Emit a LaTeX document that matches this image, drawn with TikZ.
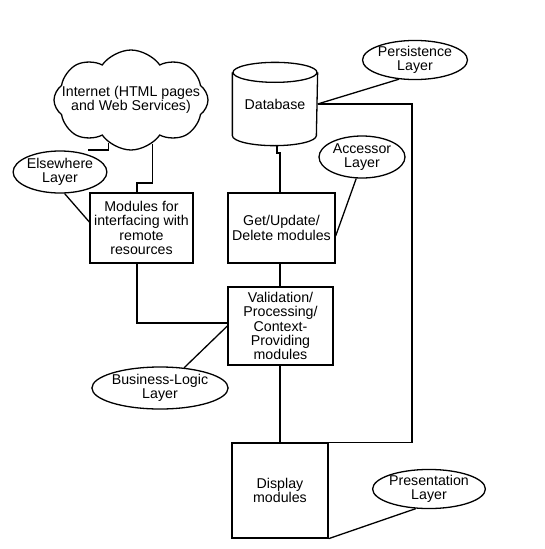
\documentclass[tikz,border=0pt]{standalone}
\usepackage{fontspec}
\setmainfont{Liberation Sans}
\usetikzlibrary{shapes.geometric,shapes.symbols}
\begin{document}
\begin{tikzpicture}[x=1pt,y=1pt,line width=1.3pt,
  txt/.style={font=\fontsize{14.2}{14.4}\selectfont, align=center},
  box/.style={draw, rectangle, inner sep=0pt, txt},
  lay/.style={draw, ellipse, inner sep=0pt, txt}]
\useasboundingbox (0,0) rectangle (544,-549);
% nodes
\node[draw, cloud, cloud puffs=8, cloud puff arc=110, aspect=1.6,
      minimum width=154pt, minimum height=100pt, inner sep=0pt] (cl) at (131,-100) {};
\node[txt, inner sep=0pt] (clt) at (131,-100) {Internet (HTML pages\\and Web Services)};
\node[lay, minimum width=88pt, minimum height=42pt] (els) at (60,-172) {Elsewhere\\Layer};
\node[box, minimum width=103pt, minimum height=70pt] (mod) at (141.5,-228)
      {Modules for\\interfacing with\\remote\\resources};
\node[inner sep=0pt, minimum width=84pt, minimum height=82pt, txt] (db) at (275,-104) {Database};
\draw ([yshift=-10pt]db.north west) -- ([yshift=10pt]db.south west)
      arc[start angle=180, end angle=360, x radius=42pt, y radius=10pt]
      -- ([yshift=-10pt]db.north east);
\draw ([yshift=-10pt]db.north) ellipse [x radius=42pt, y radius=10pt];
\node[lay, minimum width=102pt, minimum height=38pt] (per) at (415,-60) {Persistence\\Layer};
\node[lay, minimum width=86pt, minimum height=42pt] (acc) at (362,-157) {Accessor\\Layer};
\node[box, minimum width=107pt, minimum height=70pt] (get) at (281.5,-228)
      {Get/Update/\\Delete modules};
\node[box, minimum width=105pt, minimum height=78pt] (val) at (280.5,-326)
      {Validation/\\Processing/\\Context-\\Providing\\modules};
\node[lay, minimum width=106pt, minimum height=42pt] (bus) at (160,-388) {Business-Logic\\Layer};
\node[box, minimum width=96pt, minimum height=95pt] (dis) at (280,-490.5)
      {Display\\modules};
\node[lay, minimum width=110pt, minimum height=38pt] (pre) at (429,-489) {Presentation\\Layer};
% coordinates
\coordinate (e1) at (88,-150);
\coordinate (k1) at (137,-183);
\coordinate (k2) at (137,-323);
\coordinate (k3) at (280,-153);
\coordinate (k4) at (412,-104);
% connectors
\draw (cl.242) -- (cl.242 |- e1) -- (e1);
\draw (cl.296) -- (cl.296 |- k1) -- (k1) -- (k1 |- mod.north);
\draw (els.282) -- ([yshift=6pt]mod.west);
\draw (mod.south -| k2) -- (k2) -- (k2 -| val.west);
\draw ([xshift=2pt]db.south) -- ([xshift=2pt]db.south |- k3) -- (k3) -- (k3 |- get.north);
\draw (get.south -| k3) -- (k3 |- val.north);
\draw (val.south -| dis.north) -- (dis.north);
\draw (k4 -| db.east) -- (k4) -- (k4 |- dis.north) -- (dis.north east);
\draw (per.230) -- (k4 -| db.east);
\draw (acc.255) -- ([yshift=-8pt]get.east);
\draw (bus.40) -- (val.west);
\draw (pre.236) -- (dis.south east);
\end{tikzpicture}
\end{document}
